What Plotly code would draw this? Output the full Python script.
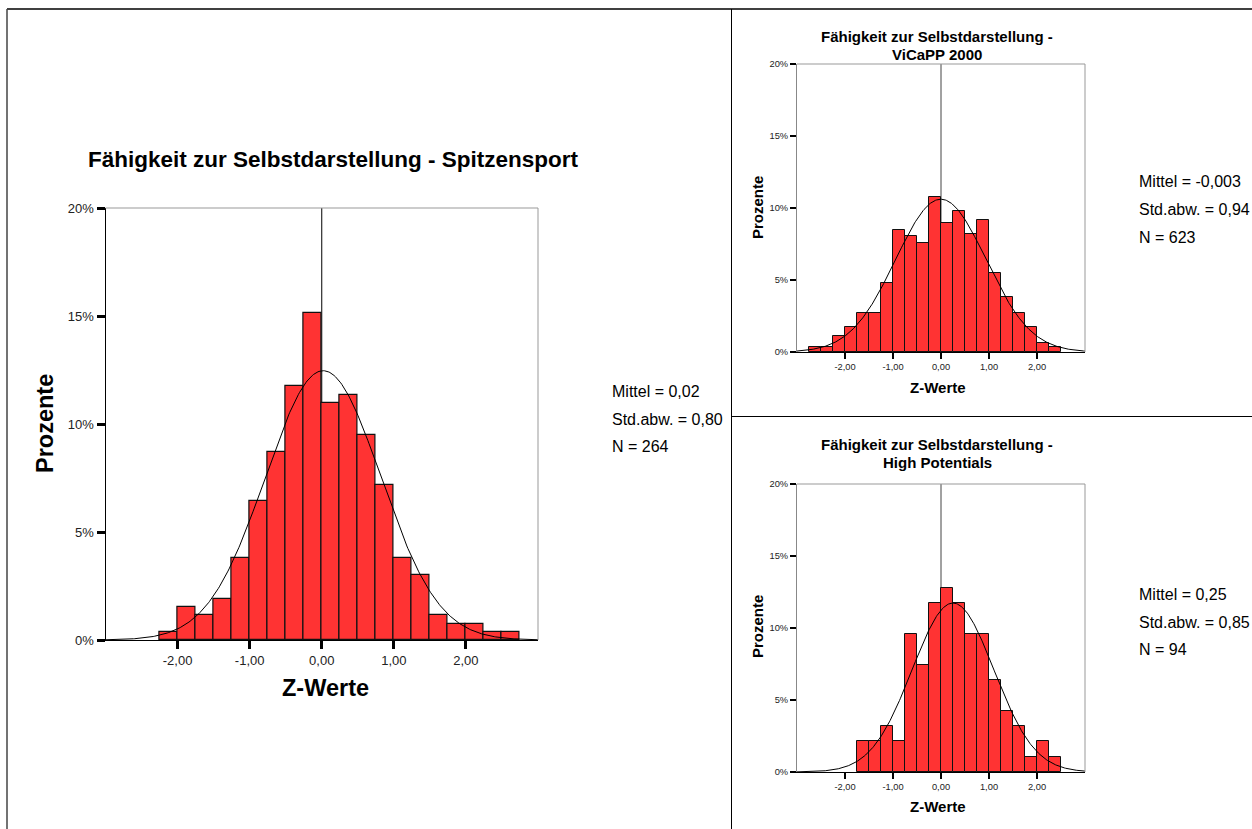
import numpy as np
import plotly.graph_objects as go

W, H = 1252, 829
BIN_W = 0.25

# ---- data ----
main_bin_lo = [-2.25, -2.0, -1.75, -1.5, -1.25, -1.0, -0.75, -0.5, -0.25, 0.0,
               0.25, 0.5, 0.75, 1.0, 1.25, 1.5, 1.75, 2.0, 2.25, 2.5]
main_counts = [1, 4, 3, 5, 10, 17, 23, 31, 40, 29, 30, 25, 19, 10, 8, 3, 2, 2, 1, 1]
main_n, main_mean, main_sd = 264, 0.02, 0.80

vicapp_bin_lo = [-2.75, -2.5, -2.25, -2.0, -1.75, -1.5, -1.25, -1.0, -0.75, -0.5, -0.25,
                 0.0, 0.25, 0.5, 0.75, 1.0, 1.25, 1.5, 1.75, 2.0, 2.25]
vicapp_counts = [2, 2, 7, 11, 17, 17, 30, 53, 50, 47, 67, 56, 61, 51, 57, 34, 24, 17, 11, 4, 2]
vicapp_n, vicapp_mean, vicapp_sd = 623, -0.003, 0.94

hp_bin_lo = [-1.75, -1.5, -1.25, -1.0, -0.75, -0.5, -0.25, 0.0, 0.25, 0.5, 0.75,
             1.0, 1.25, 1.5, 1.75, 2.0, 2.25]
hp_counts = [2, 2, 3, 2, 9, 7, 11, 12, 11, 9, 9, 6, 4, 3, 1, 2, 1]
hp_n, hp_mean, hp_sd = 94, 0.25, 0.85

x_tickvals = [-2, -1, 0, 1, 2]
x_ticktext = ["-2,00", "-1,00", "0,00", "1,00", "2,00"]
y_tickvals = [0, 5, 10, 15, 20]
y_ticktext = ["0%", "5%", "10%", "15%", "20%"]

FONT = "Arial, Liberation Sans, sans-serif"
BAR_COLOR = "#ff3333"


def px_x(p):
    return p / W


def px_y(p):
    return 1 - p / H


panels = [
    dict(lo=main_bin_lo, counts=main_counts, n=main_n, mean=main_mean, sd=main_sd,
         xd=(105.5, 538), yd=(208, 640), tick=13, ticklen=8, tickw=3, yline="black",
         barline=1.2, zerocol="black",
         title=["Fähigkeit zur Selbstdarstellung - Spitzensport"], title_x=333, title_y=[160], title_size=22.5,
         ylab_x=45, ylab_y=424, xlab_x=325, xlab_y=688, lab_size=23.5,
         stats=["Mittel = 0,02", "Std.abw. = 0,80", "N = 264"], stats_x=610, stats_y=[391, 419, 446]),
    dict(lo=vicapp_bin_lo, counts=vicapp_counts, n=vicapp_n, mean=vicapp_mean, sd=vicapp_sd,
         xd=(797, 1085), yd=(64, 352), tick=9.3, ticklen=6, tickw=2, yline="#888888",
         barline=1, zerocol="#444444",
         title=["Fähigkeit zur Selbstdarstellung -", "ViCaPP 2000"], title_x=937, title_y=[37, 54.5], title_size=15,
         ylab_x=757, ylab_y=208, xlab_x=938, xlab_y=388, lab_size=15,
         stats=["Mittel = -0,003", "Std.abw. = 0,94", "N = 623"], stats_x=1137, stats_y=[182, 209, 237]),
    dict(lo=hp_bin_lo, counts=hp_counts, n=hp_n, mean=hp_mean, sd=hp_sd,
         xd=(797, 1085), yd=(484, 772), tick=9.3, ticklen=6, tickw=2, yline="#888888",
         barline=1, zerocol="#444444",
         title=["Fähigkeit zur Selbstdarstellung -", "High Potentials"], title_x=937, title_y=[445, 462.5], title_size=15,
         ylab_x=757, ylab_y=627, xlab_x=938, xlab_y=806, lab_size=15,
         stats=["Mittel = 0,25", "Std.abw. = 0,85", "N = 94"], stats_x=1137, stats_y=[594, 622, 649]),
]

fig = go.Figure()
shapes = []
annotations = []
layout_axes = {}

xs_curve = np.linspace(-3, 3, 400)

for i, p in enumerate(panels):
    sfx = "" if i == 0 else str(i + 1)
    xa, ya = "x" + sfx, "y" + sfx
    centers = [v + BIN_W / 2 for v in p["lo"]]
    pct = [c / p["n"] * 100 for c in p["counts"]]
    fig.add_trace(go.Bar(x=centers, y=pct, width=BIN_W, xaxis=xa, yaxis=ya,
                         marker=dict(color=BAR_COLOR, line=dict(color="#111111", width=p["barline"])),
                         showlegend=False, hoverinfo="skip"))
    curve = 100 * BIN_W * np.exp(-0.5 * ((xs_curve - p["mean"]) / p["sd"]) ** 2) / (p["sd"] * np.sqrt(2 * np.pi))
    fig.add_trace(go.Scatter(x=xs_curve, y=curve, mode="lines", xaxis=xa, yaxis=ya,
                             line=dict(color="black", width=1), showlegend=False, hoverinfo="skip"))

    layout_axes["xaxis" + sfx] = dict(
        domain=[px_x(p["xd"][0]), px_x(p["xd"][1])], range=[-3, 3], anchor=ya,
        tickvals=x_tickvals, ticktext=x_ticktext, ticks="outside", ticklen=p["ticklen"],
        tickwidth=p["tickw"], tickcolor="black", showline=True, linecolor="black", linewidth=1,
        showgrid=False, zeroline=False, tickfont=dict(family=FONT, size=p["tick"], color="#222222"),
        fixedrange=True, automargin=False)
    layout_axes["yaxis" + sfx] = dict(
        domain=[px_y(p["yd"][1]), px_y(p["yd"][0])], range=[0, 20], anchor=xa,
        tickvals=y_tickvals, ticktext=y_ticktext, ticks="outside", ticklen=p["ticklen"],
        tickwidth=p["tickw"], tickcolor="black", showline=True, linecolor=p["yline"], linewidth=1,
        showgrid=False, zeroline=False, tickfont=dict(family=FONT, size=p["tick"], color="#222222"),
        fixedrange=True, automargin=False)

    # reference line at 0 (under bars)
    shapes.append(dict(type="line", xref=xa, yref=ya, x0=0, x1=0, y0=0, y1=20,
                       line=dict(color=p["zerocol"], width=1), layer="below"))
    # gray frame top + right
    shapes.append(dict(type="line", xref=xa + " domain", yref=ya + " domain", x0=0, x1=1, y0=1, y1=1,
                       line=dict(color="#999999", width=1)))
    shapes.append(dict(type="line", xref=xa + " domain", yref=ya + " domain", x0=1, x1=1, y0=0, y1=1,
                       line=dict(color="#999999", width=1)))

    for t, ty in zip(p["title"], p["title_y"]):
        annotations.append(dict(text="<b>" + t + "</b>", xref="paper", yref="paper", x=px_x(p["title_x"]),
                                y=px_y(ty), showarrow=False, xanchor="center", yanchor="middle",
                                font=dict(family=FONT, size=p["title_size"], color="black")))
    annotations.append(dict(text="<b>Prozente</b>", xref="paper", yref="paper", x=px_x(p["ylab_x"]),
                            y=px_y(p["ylab_y"]), showarrow=False, textangle=-90, xanchor="center",
                            yanchor="middle", font=dict(family=FONT, size=p["lab_size"], color="black")))
    annotations.append(dict(text="<b>Z-Werte</b>", xref="paper", yref="paper", x=px_x(p["xlab_x"]),
                            y=px_y(p["xlab_y"]), showarrow=False, xanchor="center", yanchor="middle",
                            font=dict(family=FONT, size=p["lab_size"], color="black")))
    for t, ty in zip(p["stats"], p["stats_y"]):
        annotations.append(dict(text=t, xref="paper", yref="paper", x=px_x(p["stats_x"]), y=px_y(ty),
                                showarrow=False, xanchor="left", yanchor="middle",
                                font=dict(family=FONT, size=16, color="black")))

# outer table borders
shapes += [
    dict(type="line", xref="paper", yref="paper", x0=px_x(7), x1=1, y0=px_y(9), y1=px_y(9),
         line=dict(color="black", width=1.5)),
    dict(type="line", xref="paper", yref="paper", x0=px_x(7), x1=px_x(7), y0=px_y(9), y1=0,
         line=dict(color="#444444", width=1.5)),
    dict(type="line", xref="paper", yref="paper", x0=px_x(731.5), x1=px_x(731.5), y0=px_y(9), y1=0,
         line=dict(color="black", width=1)),
    dict(type="line", xref="paper", yref="paper", x0=px_x(731.5), x1=1, y0=px_y(416.5), y1=px_y(416.5),
         line=dict(color="black", width=1)),
]

fig.update_layout(
    template="none",
    width=W, height=H, margin=dict(l=0, r=0, t=0, b=0, pad=0, autoexpand=False),
    paper_bgcolor="white", plot_bgcolor="white",
    shapes=shapes, annotations=annotations, bargap=0, showlegend=False,
    font=dict(family=FONT), **layout_axes)

fig.write_html(
    "out.html",
    config={"displayModeBar": False, "responsive": False},
    post_script=(
        "var d=document.getElementById('{plot_id}');"
        "d.style.position='fixed';d.style.top='0px';d.style.left='0px';"
        "var de=document.documentElement;de.style.margin='0';de.style.padding='0';"
        "de.style.overflow='hidden';de.style.height='" + str(H) + "px';"
        "document.body.style.margin='0';document.body.style.padding='0';"
        "document.body.style.overflow='hidden';document.body.style.height='" + str(H) + "px';"
    ),
)
